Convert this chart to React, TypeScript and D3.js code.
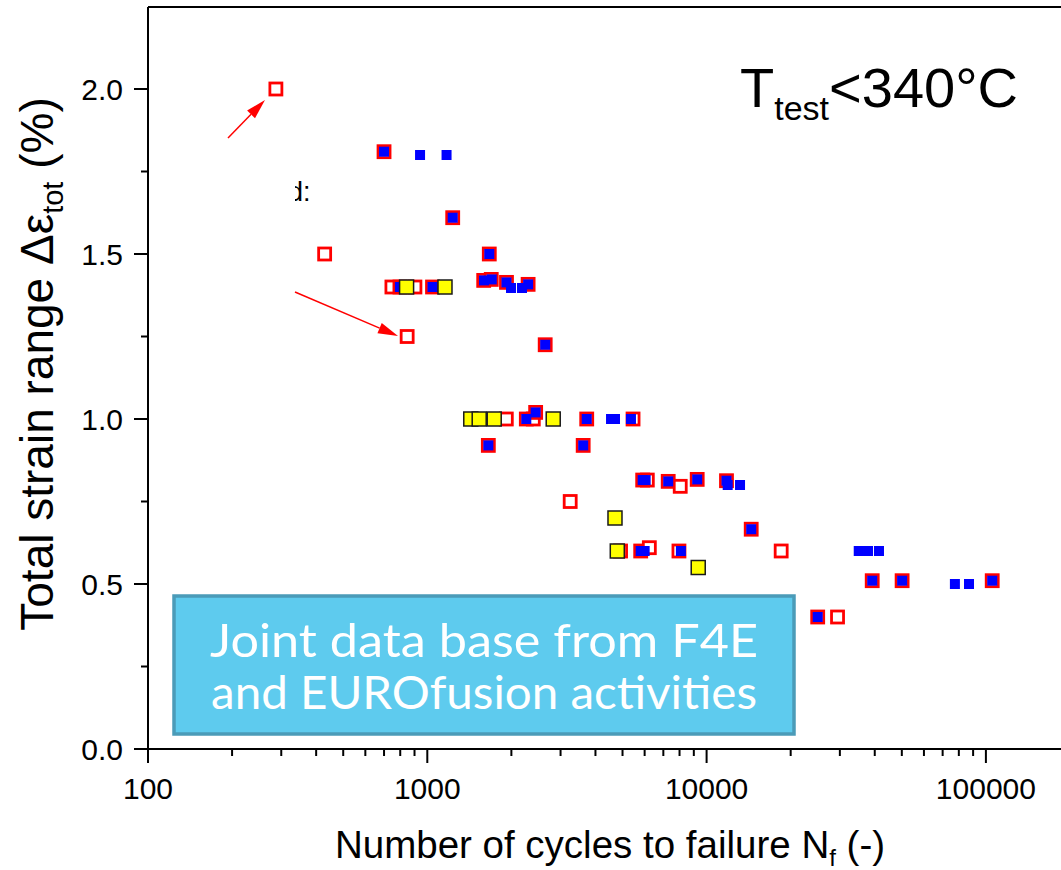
import React from "react";
import * as d3 from "d3";

// Fatigue data: [cycles to failure N_f, total strain range %]
const redOpen: [number, number][] = [
  [287, 2.0], [700, 1.81], [429, 1.5], [1233, 1.61], [1667, 1.5],
  [747, 1.4], [798, 1.4], [903, 1.4], [1044, 1.4], [847, 1.25],
  [1592, 1.42], [1694, 1.423], [1921, 1.414], [2296, 1.408], [2643, 1.225],
  [1918, 1.0], [2262, 1.0], [2396, 1.0], [2443, 1.02], [3722, 1.0], [5453, 1.0],
  [1654, 0.92], [3615, 0.92], [3248, 0.75],
  [5904, 0.815], [6134, 0.815], [7287, 0.811], [8046, 0.796], [9254, 0.817], [11782, 0.813],
  [14445, 0.666], [4920, 0.6], [5808, 0.6], [6237, 0.61], [7962, 0.6], [18493, 0.6],
  [39170, 0.51], [50120, 0.51], [105340, 0.51], [24990, 0.4], [29430, 0.4],
];

const blueSolid: [number, number][] = [
  [700, 1.81], [942, 1.8], [1172, 1.8], [1233, 1.61], [1667, 1.5],
  [798, 1.4], [1044, 1.4], [1596, 1.42], [1701, 1.423], [1921, 1.414],
  [1994, 1.397], [2183, 1.397], [2296, 1.408], [2643, 1.225],
  [2262, 1.0], [2443, 1.02], [3722, 1.0], [4548, 1.0], [4699, 1.0], [5360, 1.0],
  [1654, 0.92], [3615, 0.92],
  [5904, 0.815], [6050, 0.815], [7287, 0.811], [9254, 0.817], [11782, 0.813],
  [11900, 0.8], [13173, 0.8], [14445, 0.666],
  [5808, 0.6], [6000, 0.6], [8090, 0.6], [35050, 0.6], [37840, 0.6], [41420, 0.6],
  [39170, 0.51], [50120, 0.51], [77450, 0.5], [87000, 0.5], [105340, 0.51], [24990, 0.4],
];

const yellowSolid: [number, number][] = [
  [843, 1.4], [1157, 1.4], [1431, 1.0], [1534, 1.0], [1736, 1.0], [2824, 1.0],
  [4699, 0.7], [4789, 0.6], [9333, 0.55],
];

const xMajorTicks = [100, 1000, 10000, 100000];
const yMajorTicks = [0, 0.5, 1.0, 1.5, 2.0];
const yMinorTicks = [0.25, 0.75, 1.25, 1.75];

const boxLines = ["Joint data base from F4E", "and EUROfusion activities"];

const W = 1061;
const H = 870;
const left = 148;
const bottom = 749;
const top = 7;
const decade = 279.3;

const x = d3.scaleLog().domain([100, 200000]).range([left, left + decade * Math.log10(2000)]);
const y = d3.scaleLinear().domain([0, 2.25]).range([bottom, bottom - 2.25 * 330]);

const xMinorTicks: number[] = [];
for (const base of [100, 1000, 10000, 100000]) {
  for (let k = 2; k <= 9; k++) xMinorTicks.push(base * k);
}

const FONT = "Arial, 'Liberation Sans', sans-serif";

function Arrow({ x1, y1, x2, y2 }: { x1: number; y1: number; x2: number; y2: number }) {
  const ang = Math.atan2(y2 - y1, x2 - x1);
  const len = 20;
  const half = 5.5;
  const bx = x2 - len * Math.cos(ang);
  const by = y2 - len * Math.sin(ang);
  const px = -Math.sin(ang) * half;
  const py = Math.cos(ang) * half;
  return (
    <g>
      <line x1={x1} y1={y1} x2={bx} y2={by} stroke="#ff0000" strokeWidth={1.5} />
      <polygon points={`${x2},${y2} ${bx + px},${by + py} ${bx - px},${by - py}`} fill="#ff0000" />
    </g>
  );
}

export default function App() {
  const xEnd = W;
  return (
    <svg
      width={W}
      height={H}
      style={{ position: "absolute", left: 0, top: 0, background: "#fff" }}
      fontFamily={FONT}
    >
      <defs>
        <clipPath id="legendClip">
          <rect x={295} y={150} width={100} height={80} />
        </clipPath>
      </defs>
      <rect x={0} y={0} width={W} height={H} fill="#fff" />

      {/* frame */}
      <line x1={left} y1={top} x2={xEnd} y2={top} stroke="#000" strokeWidth={2} />
      <line x1={left} y1={top} x2={left} y2={bottom} stroke="#000" strokeWidth={2} />
      <line x1={left - 1} y1={bottom} x2={xEnd} y2={bottom} stroke="#000" strokeWidth={2} />

      {/* y ticks */}
      {yMajorTicks.map((t) => (
        <g key={"ym" + t}>
          <line x1={left - 14} x2={left} y1={y(t)} y2={y(t)} stroke="#000" strokeWidth={2} />
          <text x={123} y={y(t) + 10.5} fontSize={30} textAnchor="end">
            {t.toFixed(1)}
          </text>
        </g>
      ))}
      {yMinorTicks.map((t) => (
        <line key={"yn" + t} x1={left - 7} x2={left} y1={y(t)} y2={y(t)} stroke="#000" strokeWidth={2} />
      ))}

      {/* x ticks */}
      {xMajorTicks.map((t) => (
        <g key={"xm" + t}>
          <line x1={x(t)} x2={x(t)} y1={bottom} y2={bottom + 14} stroke="#000" strokeWidth={2} />
          <text x={x(t)} y={799} fontSize={30} textAnchor="middle">
            {t}
          </text>
        </g>
      ))}
      {xMinorTicks
        .filter((t) => x(t) < W)
        .map((t) => (
          <line key={"xn" + t} x1={x(t)} x2={x(t)} y1={bottom} y2={bottom + 7} stroke="#000" strokeWidth={2} />
        ))}

      {/* axis titles */}
      <text x={610} y={858} fontSize={38.5} textAnchor="middle">
        Number of cycles to failure N<tspan fontSize={24} dy={8}>f</tspan>
        <tspan dy={-8}> (-)</tspan>
      </text>
      <text transform="translate(53,364) rotate(-90)" fontSize={46} textAnchor="middle">
        Total strain range Δε<tspan fontSize={29} dy={10}>tot</tspan>
        <tspan dy={-10}> (%)</tspan>
      </text>

      {/* temperature note */}
      <text x={740} y={107} fontSize={56}>
        T<tspan fontSize={34} dy={13}>test</tspan>
        <tspan dy={-13}>&lt;340°C</tspan>
      </text>

      {/* partially hidden legend fragment */}
      <text x={288} y={201} fontSize={27} clipPath="url(#legendClip)">
        d:
      </text>

      {/* annotation arrows */}
      <Arrow x1={228} y1={138} x2={265} y2={100} />
      <Arrow x1={295} y1={292} x2={398} y2={336} />

      {/* data: red open squares */}
      {redOpen.map(([n, s], i) => (
        <rect
          key={"r" + i}
          x={x(n) - 6}
          y={y(s) - 6}
          width={12}
          height={12}
          fill="#fff"
          stroke="#ff0000"
          strokeWidth={2.8}
        />
      ))}
      {/* blue solid squares */}
      {blueSolid.map(([n, s], i) => (
        <rect key={"b" + i} x={x(n) - 5} y={y(s) - 5} width={10} height={10} fill="#0000ff" />
      ))}
      {/* yellow squares */}
      {yellowSolid.map(([n, s], i) => (
        <rect
          key={"yl" + i}
          x={x(n) - 7}
          y={y(s) - 7}
          width={14}
          height={14}
          fill="#ffff00"
          stroke="#1a1a1a"
          strokeWidth={1.5}
        />
      ))}

      {/* info box */}
      <rect x={174} y={596} width={620} height={138} fill="#5ecbee" stroke="#4b9bb8" strokeWidth={3.5} />
      {boxLines.map((line, i) => (
        <text
          key={"bl" + i}
          x={484}
          y={657 + i * 52}
          fontSize={47}
          fill="#fff"
          textAnchor="middle"
          textLength={i === 0 ? 548 : 546}
          lengthAdjust="spacingAndGlyphs"
          fontFamily="Lato, 'Open Sans', sans-serif"
        >
          {line}
        </text>
      ))}
    </svg>
  );
}
